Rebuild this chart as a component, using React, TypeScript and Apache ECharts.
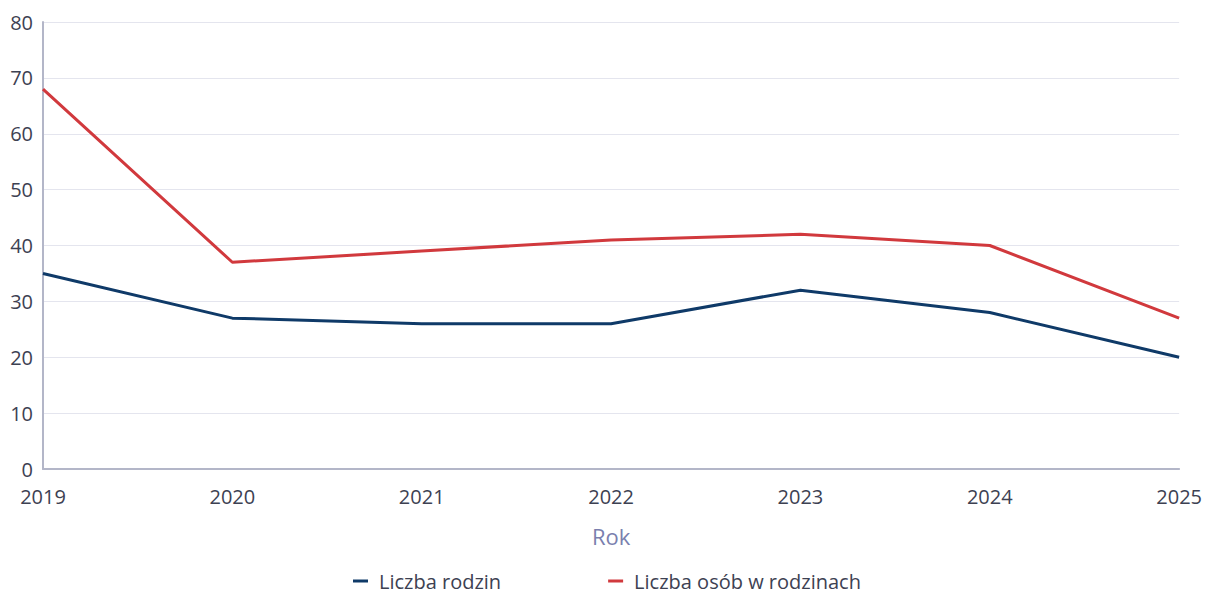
import React, { useEffect, useRef } from "react";
import * as echarts from "echarts";

const years = ["2019", "2020", "2021", "2022", "2023", "2024", "2025"];
const liczbaRodzin = [35, 27, 26, 26, 32, 28, 20];
const liczbaOsob = [68, 37, 39, 41, 42, 40, 27];

const FONT = "'Open Sans', sans-serif";
const TEXT = "#3d4152";

export default function App() {
  const ref = useRef<HTMLDivElement>(null);
  useEffect(() => {
    if (!ref.current) return;
    const chart = echarts.init(ref.current, null, { renderer: "svg" });
    chart.setOption({
      animation: false,
      textStyle: { fontFamily: FONT },
      grid: { left: 43, right: 20, top: 22, bottom: 124, containLabel: false },
      legend: {
        top: 571,
        left: 353,
        padding: 0,
        itemWidth: 15,
        itemHeight: 3,
        itemGap: 107,
        icon: "rect",
        textStyle: {
          fontFamily: FONT,
          fontSize: 20,
          lineHeight: 20,
          color: TEXT,
          padding: [0, 0, 0, 6],
        },
        data: ["Liczba rodzin", "Liczba osób w rodzinach"],
      },
      xAxis: {
        type: "category",
        data: years,
        boundaryGap: false,
        name: "Rok",
        nameLocation: "middle",
        nameGap: 56,
        nameTextStyle: { fontFamily: FONT, fontSize: 22, color: "#7a7fae" },
        axisLine: { lineStyle: { color: "#b3b6c8", width: 2 } },
        axisTick: { show: false },
        axisLabel: { fontFamily: FONT, fontSize: 20, color: TEXT, margin: 17 },
        splitLine: { show: false },
      },
      yAxis: {
        type: "value",
        min: 0,
        max: 80,
        interval: 10,
        axisLine: { show: true, lineStyle: { color: "#b3b6c8", width: 2 } },
        axisTick: { show: false },
        axisLabel: { fontFamily: FONT, fontSize: 20, color: TEXT, margin: 10 },
        splitLine: { lineStyle: { color: "#e4e5ee", width: 1 } },
      },
      series: [
        {
          name: "Liczba rodzin",
          type: "line",
          data: liczbaRodzin,
          symbol: "none",
          lineStyle: { color: "#0f3a68", width: 3 },
          itemStyle: { color: "#0f3a68" },
        },
        {
          name: "Liczba osób w rodzinach",
          type: "line",
          data: liczbaOsob,
          symbol: "none",
          lineStyle: { color: "#d1393d", width: 3 },
          itemStyle: { color: "#d1393d" },
        },
      ],
    });
    return () => chart.dispose();
  }, []);
  return (
    <div
      ref={ref}
      style={{ position: "fixed", left: 0, top: 0, width: 1205, height: 593, background: "#fff" }}
    />
  );
}
